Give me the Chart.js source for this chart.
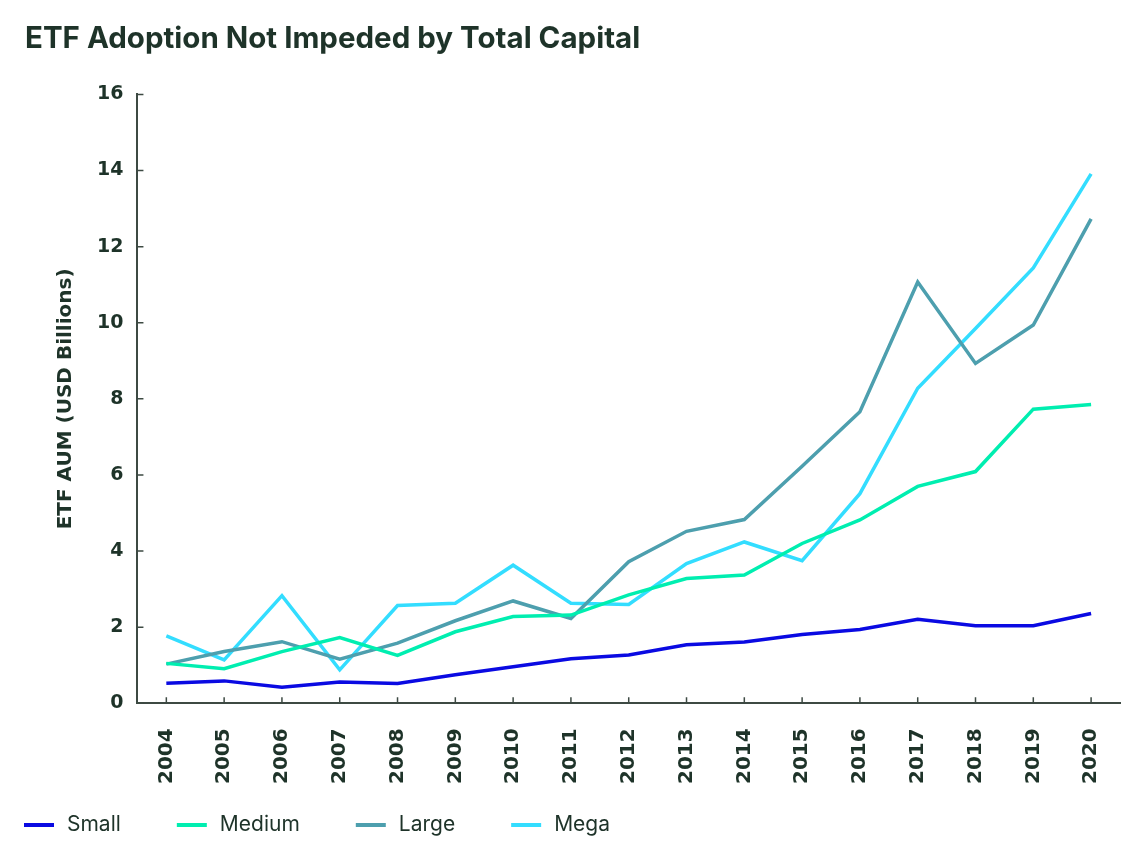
<!DOCTYPE html>
<html>
<head>
<meta charset="utf-8">
<title>ETF Adoption Not Impeded by Total Capital</title>
<script src="https://cdn.jsdelivr.net/npm/chart.js@4.4.0/dist/chart.umd.min.js"></script>
<style>
  html, body { margin: 0; padding: 0; background: #fff; }
  #wrap { width: 1147px; height: 851px; position: relative; }
</style>
</head>
<body>
<div id="wrap"><canvas id="chart"></canvas></div>
<script>
const years = ['2004', '2005', '2006', '2007', '2008', '2009', '2010', '2011', '2012',
  '2013', '2014', '2015', '2016', '2017', '2018', '2019', '2020'];

const small = [0.53, 0.59, 0.42, 0.56, 0.52, 0.75, 0.96, 1.17, 1.27, 1.54, 1.61, 1.81, 1.94, 2.21, 2.04, 2.04, 2.36];
const medium = [1.05, 0.91, 1.36, 1.73, 1.26, 1.88, 2.28, 2.32, 2.85, 3.28, 3.37, 4.2, 4.82, 5.7, 6.09, 7.73, 7.85];
const large = [1.03, 1.36, 1.62, 1.16, 1.58, 2.17, 2.69, 2.23, 3.72, 4.52, 4.83, 6.23, 7.66, 11.07, 8.93, 9.94, 12.73];
const mega = [1.77, 1.14, 2.83, 0.88, 2.57, 2.63, 3.63, 2.63, 2.6, 3.67, 4.24, 3.75, 5.51, 8.28, 9.85, 11.44, 13.91];

const textColor = '#1e3329';
const axisColor = '#3d4a43';

function series(label, data, color) {
  return {
    label: label,
    data: data,
    borderColor: color,
    backgroundColor: color,
    borderWidth: 3.5,
    pointRadius: 0,
    tension: 0
  };
}

// small tick marks pointing into the plot
const innerTicks = {
  id: 'innerTicks',
  afterDraw(chart) {
    const { ctx, scales: { x, y } } = chart;
    ctx.save();
    ctx.strokeStyle = axisColor;
    ctx.lineWidth = 1.5;
    ctx.beginPath();
    x.ticks.forEach((t, i) => {
      const px = x.getPixelForTick(i);
      ctx.moveTo(px, x.top);
      ctx.lineTo(px, x.top - 6);
    });
    y.ticks.forEach((t, i) => {
      const py = y.getPixelForTick(i);
      ctx.moveTo(y.right, py);
      ctx.lineTo(y.right + 6, py);
    });
    ctx.stroke();
    ctx.restore();
  }
};

// legend row along the bottom-left
const bottomLegend = {
  id: 'bottomLegend',
  afterDraw(chart) {
    const ctx = chart.ctx;
    const yPos = 825;
    let xPos = 24;
    ctx.save();
    ctx.font = '21px Inter, "Noto Sans", sans-serif';
    ctx.textBaseline = 'middle';
    chart.data.datasets.forEach(ds => {
      ctx.strokeStyle = ds.borderColor;
      ctx.lineWidth = 4;
      ctx.beginPath();
      ctx.moveTo(xPos, yPos);
      ctx.lineTo(xPos + 30, yPos);
      ctx.stroke();
      ctx.fillStyle = textColor;
      ctx.fillText(ds.label, xPos + 43, yPos);
      xPos += 43 + ctx.measureText(ds.label).width + 56;
    });
    ctx.restore();
  }
};

new Chart(document.getElementById('chart'), {
  type: 'line',
  data: {
    labels: years,
    datasets: [
      series('Small', small, '#0a0ae2'),
      series('Medium', medium, '#00eeb0'),
      series('Large', large, '#4d9fae'),
      series('Mega', mega, '#33ddff')
    ]
  },
  options: {
    responsive: true,
    maintainAspectRatio: false,
    animation: false,
    layout: { padding: { left: 25, right: 27, top: 21, bottom: 42 } },
    plugins: {
      legend: { display: false },
      tooltip: { enabled: false },
      title: {
        display: true,
        text: 'ETF Adoption Not Impeded by Total Capital',
        align: 'start',
        color: textColor,
        font: { family: 'Inter, Roboto, sans-serif', size: 29.5, weight: 'bold' },
        padding: { top: 0, bottom: 38 }
      }
    },
    scales: {
      x: {
        offset: true,
        grid: { drawOnChartArea: false, drawTicks: false },
        border: { display: true, color: axisColor, width: 2 },
        ticks: {
          color: textColor,
          maxRotation: 90,
          minRotation: 90,
          padding: 25,
          font: { family: '"DejaVu Sans", sans-serif', size: 20, weight: 'bold' }
        }
      },
      y: {
        min: 0,
        max: 16,
        grid: { drawOnChartArea: false, drawTicks: false },
        border: { display: true, color: axisColor, width: 2 },
        ticks: {
          stepSize: 2,
          color: textColor,
          padding: 14,
          font: { family: '"DejaVu Sans", sans-serif', size: 19, weight: 'bold' }
        },
        title: {
          display: true,
          text: 'ETF AUM (USD Billions)',
          color: textColor,
          font: { family: '"DejaVu Sans", sans-serif', size: 20, weight: 'bold' },
          padding: { top: 29, bottom: 5 }
        }
      }
    }
  },
  plugins: [innerTicks, bottomLegend]
});
</script>
</body>
</html>
